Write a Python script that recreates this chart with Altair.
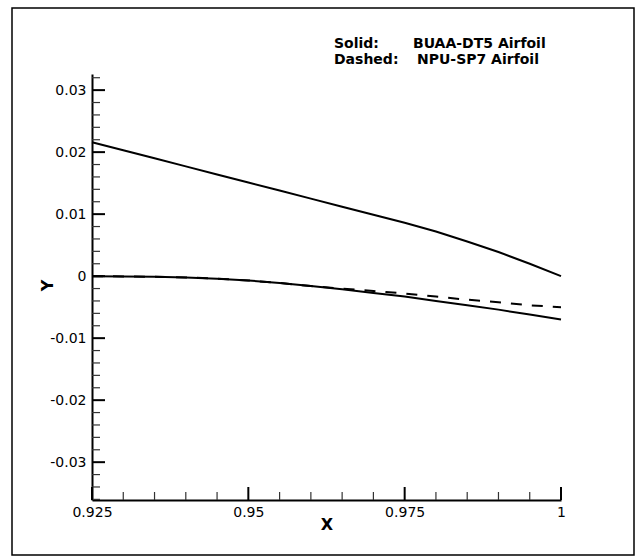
import altair as alt
import pandas as pd

# ---- data ----
xs = [0.925, 0.93, 0.935, 0.94, 0.945, 0.95, 0.955, 0.96, 0.965, 0.97,
      0.975, 0.98, 0.985, 0.99, 0.995, 1.0]
upper_y = [0.0216, 0.0203, 0.0190, 0.0177, 0.0164, 0.0151, 0.0138, 0.0125,
           0.0112, 0.0099, 0.0086, 0.0072, 0.0056, 0.0039, 0.0020, 0.0]
lower_solid_y = [0.0, -0.00005, -0.0001, -0.0002, -0.0004, -0.0007, -0.0011,
                 -0.0016, -0.0021, -0.0027, -0.0033, -0.0040, -0.0047,
                 -0.0054, -0.0062, -0.0070]
lower_dashed_y = [0.0, -0.00005, -0.0001, -0.0002, -0.0004, -0.0007, -0.0011,
                  -0.0016, -0.0020, -0.0024, -0.0028, -0.0033, -0.0038,
                  -0.0042, -0.0047, -0.0050]

y_major = [-0.03, -0.02, -0.01, 0.0, 0.01, 0.02, 0.03]
y_minor = [-0.036, -0.034, -0.032, -0.028, -0.026, -0.024, -0.022, -0.018,
           -0.016, -0.014, -0.012, -0.008, -0.006, -0.004, -0.002, 0.002,
           0.004, 0.006, 0.008, 0.012, 0.014, 0.016, 0.018, 0.022, 0.024,
           0.026, 0.028, 0.032]
x_major = [0.925, 0.95, 0.975, 1.0]
x_minor = [0.93, 0.935, 0.94, 0.945, 0.955, 0.96, 0.965, 0.97, 0.98, 0.985,
           0.99, 0.995]

legend_keys = ["Solid:", "Dashed:"]
legend_names = ["BUAA-DT5 Airfoil", "NPU-SP7 Airfoil"]

X_DOMAIN = [0.925, 1.0]
Y_DOMAIN = [-0.0361, 0.0326]

W, H = 469, 426
FONT = "DejaVu Sans"

xscale = alt.Scale(domain=X_DOMAIN, nice=False, zero=False)
yscale = alt.Scale(domain=Y_DOMAIN, nice=False, zero=False)

x_axis = alt.Axis(
    values=x_major, title="X", ticks=False, tickSize=0, grid=False,
    domainColor="black", domainWidth=2,
    labelFont=FONT, labelFontSize=14, labelColor="black", labelPadding=5,
    labelExpr="format(datum.value, '.3~f')", labelFlush=False,
    titleFont=FONT, titleFontSize=16, titleFontWeight="bold", titleColor="black",
    titleX=W / 2, titleY=24, titleAlign="center", titleBaseline="middle",
)
y_axis = alt.Axis(
    values=y_major, title="Y", ticks=False, tickSize=0, grid=False,
    domainColor="black", domainWidth=2,
    labelFont=FONT, labelFontSize=14, labelColor="black", labelPadding=6,
    labelExpr="(datum.value < 0 ? '-' : '') + (datum.value == 0 ? '0' : format(abs(datum.value), '.2f'))",
    labelFlush=False,
    titleFont=FONT, titleFontSize=16, titleFontWeight="bold", titleColor="black",
    titleX=-45, titleY=211, titleAngle=270, titleAlign="center",
    titleBaseline="middle",
)

def X():
    return alt.X("x:Q", scale=xscale, axis=x_axis)

def Y():
    return alt.Y("y:Q", scale=yscale, axis=y_axis)

solid_df = pd.concat([
    pd.DataFrame({"x": xs, "y": upper_y, "seg": "upper"}),
    pd.DataFrame({"x": xs, "y": lower_solid_y, "seg": "lower"}),
])
dashed_df = pd.DataFrame({"x": xs, "y": lower_dashed_y, "seg": "lower"})

solid = alt.Chart(solid_df).mark_line(color="black", strokeWidth=2).encode(
    x=X(), y=Y(), detail="seg:N", order="x:Q")
dashed = alt.Chart(dashed_df).mark_line(
    color="black", strokeWidth=2, strokeDash=[11, 10]).encode(
    x=X(), y=Y(), order="x:Q")

ytick_major = alt.Chart(pd.DataFrame({"y": y_major})).mark_rule(
    color="black", strokeWidth=2).encode(
    y=Y(), x=alt.value(0), x2=alt.value(13))
ytick_minor = alt.Chart(pd.DataFrame({"y": y_minor})).mark_rule(
    color="#333333", strokeWidth=1.2).encode(
    y=Y(), x=alt.value(0), x2=alt.value(8))
xtick_major = alt.Chart(pd.DataFrame({"x": x_major})).mark_rule(
    color="black", strokeWidth=2).encode(
    x=X(), y=alt.value(H), y2=alt.value(H - 13))
xtick_minor = alt.Chart(pd.DataFrame({"x": x_minor})).mark_rule(
    color="#333333", strokeWidth=1.2).encode(
    x=X(), y=alt.value(H), y2=alt.value(H - 8))

def legend_text(txt, x, y):
    return alt.Chart(pd.DataFrame({"t": [txt]})).mark_text(
        font=FONT, fontSize=14, fontWeight="bold", color="black",
        align="left", baseline="alphabetic").encode(
        text="t:N", x=alt.value(x), y=alt.value(y))

legend = (legend_text(legend_keys[0], 242, -26) + legend_text(legend_names[0], 321, -26)
          + legend_text(legend_keys[1], 242, -10) + legend_text(legend_names[1], 325, -10))

# outer figure frame (decoration)
frame = alt.Chart(pd.DataFrame({"k": [0]})).mark_rect(
    fill=None, stroke="black", strokeWidth=1.5).encode(
    x=alt.value(-80), x2=alt.value(542), y=alt.value(-66), y2=alt.value(481))

chart = alt.layer(
    frame, solid, dashed, ytick_major, ytick_minor, xtick_major, xtick_minor, legend
).properties(
    width=W, height=H, autosize="none", background="white",
    padding={"left": 92, "top": 74, "right": 74, "bottom": 56},
).configure_view(strokeWidth=0, stroke=None)

chart.save("out.html", embed_options={"renderer": "svg", "actions": False})
